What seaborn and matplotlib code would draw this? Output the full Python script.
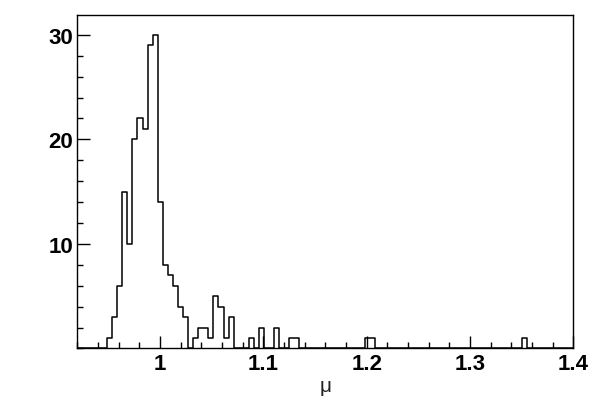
import numpy as np
import pandas as pd
import matplotlib
matplotlib.use("Agg")
import matplotlib.pyplot as plt
import seaborn as sns
from matplotlib.ticker import MultipleLocator, FixedLocator

# ---- data ----
mu_low = 0.9194
mu_bin_width = 0.0049
n_bins = 98
counts = [0, 0, 0, 0, 0, 0, 1, 3, 6, 15,
          10, 20, 22, 21, 29, 30, 14, 8, 7, 6,
          4, 3, 0, 1, 2, 2, 1, 5, 4, 1,
          3, 0, 0, 0, 1, 0, 2, 0, 0, 2,
          0, 0, 1, 1, 0, 0, 0, 0, 0, 0,
          0, 0, 0, 0, 0, 0, 0, 1, 1, 0,
          0, 0, 0, 0, 0, 0, 0, 0, 0, 0,
          0, 0, 0, 0, 0, 0, 0, 0, 0, 0,
          0, 0, 0, 0, 0, 0, 0, 0, 1, 0,
          0, 0, 0, 0, 0, 0, 0, 0]
x_major_ticks = [1.0, 1.1, 1.2, 1.3, 1.4]
x_tick_labels = ["1", "1.1", "1.2", "1.3", "1.4"]
y_major_ticks = [10, 20, 30]
y_tick_labels = ["10", "20", "30"]
x_label = "\u03bc"

edges = (mu_low + mu_bin_width * np.arange(n_bins + 1)).tolist()
centers = [0.5 * (a + b) for a, b in zip(edges[:-1], edges[1:])]
df = pd.DataFrame({"mu": centers, "n": counts})

sns.set_style("ticks")
plt.rcParams["font.family"] = ["Liberation Sans", "DejaVu Sans"]
plt.rcParams["text.color"] = "black"
plt.rcParams["xtick.color"] = "black"
plt.rcParams["ytick.color"] = "black"
plt.rcParams["axes.labelcolor"] = "black"

fig = plt.figure(figsize=(5.98, 4.02), dpi=100)
ax = fig.add_axes([0.1293, 0.1306, 0.9587 - 0.1293, 0.9602 - 0.1306])

sns.histplot(data=df, x="mu", weights="n", bins=edges, element="step",
             fill=False, color="black", linewidth=1.1, ax=ax)

ax.set_xlim(0.92, 1.4)
ax.set_ylim(0, 31.9)

ax.xaxis.set_major_locator(FixedLocator(x_major_ticks))
ax.set_xticklabels(x_tick_labels)
ax.xaxis.set_minor_locator(MultipleLocator(0.02))
ax.yaxis.set_major_locator(FixedLocator(y_major_ticks))
ax.set_yticklabels(y_tick_labels)
ax.yaxis.set_minor_locator(MultipleLocator(2))

ax.tick_params(axis="both", which="major", direction="in", length=9,
               width=1.0, labelsize=16, color="black", labelcolor="black")
ax.tick_params(axis="x", which="major", pad=3)
ax.tick_params(axis="y", which="major", pad=3)
ax.tick_params(axis="both", which="minor", direction="in", length=4.5,
               width=1.0, color="black")
for lab in ax.get_xticklabels() + ax.get_yticklabels():
    lab.set_fontweight("bold")

for sp in ax.spines.values():
    sp.set_visible(True)
    sp.set_color("black")
    sp.set_linewidth(1.0)

ax.set_xlabel(x_label, fontsize=15, labelpad=2, color="#222222")
ax.set_ylabel("")
ax.grid(False)

fig.savefig("out.png", dpi=100, facecolor="white")
